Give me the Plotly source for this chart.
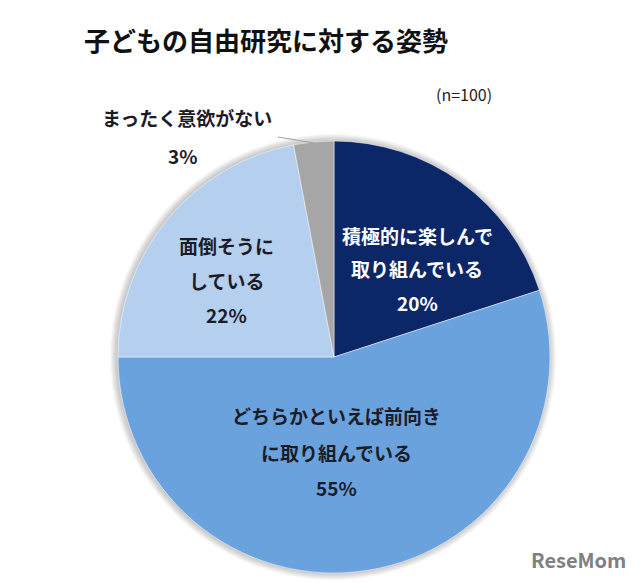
import plotly.graph_objects as go

categories = ["積極的に楽しんで取り組んでいる", "どちらかといえば前向きに取り組んでいる", "面倒そうにしている", "まったく意欲がない"]
label_lines = [["積極的に楽しんで", "取り組んでいる"], ["どちらかといえば前向き", "に取り組んでいる"], ["面倒そうに", "している"], ["まったく意欲がない"]]
values = [20, 55, 22, 3]
colors = ["#0c2768", "#6aa2de", "#b5d0ee", "#a6a6a6"]
title = "子どもの自由研究に対する姿勢"
note = "(n=100)"

W, H = 640, 583
OFF = 8  # page body margin offset
TY = 3   # vertical text baseline correction
cx, cy, r = 334 - OFF, 357 - OFF, 216

def px(x):
    return (x - OFF) / W

def py(y):
    return 1 - (y - OFF) / H

fig = go.Figure()

# soft shadow behind the pie
for k in range(1, 8):
    rr = r + k
    fig.add_shape(type="circle", xref="paper", yref="paper", layer="below",
                  x0=(cx - rr - 1) / W, x1=(cx + rr - 1) / W, y0=1 - (cy + rr) / H, y1=1 - (cy - rr) / H,
                  fillcolor="rgba(0,0,0,0.03)", line=dict(width=0))

fig.add_trace(go.Pie(
    labels=categories, values=values, sort=False, direction="clockwise", rotation=0,
    marker=dict(colors=colors, line=dict(color="rgba(255,255,255,0.6)", width=0.8)),
    textinfo="none", hoverinfo="label+percent", showlegend=False,
    domain=dict(x=[(cx - r) / W, (cx + r) / W], y=[1 - (cy + r) / H, 1 - (cy - r) / H]),
))

font = "Noto Sans CJK JP"
def ann(x, y, text, size, color, bold=True):
    fig.add_annotation(x=px(x), y=py(y - TY), xref="paper", yref="paper", text=(f"<b>{text}</b>" if bold else text),
                       showarrow=False, font=dict(family=font, size=size, color=color), xanchor="center", yanchor="middle")

# label positions (pixels in the reference) for each slice
pos = [(417, [238, 272, 305], "#ffffff"), (336, [418, 455, 490], "#1c1c28"), (226, [248, 283, 317], "#1c1c28")]
for i, (x, ys, col) in enumerate(pos):
    lines = label_lines[i] + [f"{values[i]}%"]
    for t, y in zip(lines, ys):
        ann(x, y, t, 19, col)

ann(187, 121, label_lines[3][0], 19, "#1c1c28")
ann(183, 158, f"{values[3]}%", 19, "#1c1c28")
fig.add_shape(type="line", xref="paper", yref="paper", x0=px(278), y0=py(137), x1=px(314), y1=py(143),
              line=dict(color="#a0a0a0", width=1))

ann(266, 42, title, 26, "#111111")
ann(464, 97, note, 16, "#222222", bold=False)
ann(578, 562, "ReseMom", 20, "#808080")

fig.update_layout(width=W, height=H, margin=dict(l=0, r=0, t=0, b=0),
                  paper_bgcolor="white", plot_bgcolor="white")
fig.write_html("out.html")
